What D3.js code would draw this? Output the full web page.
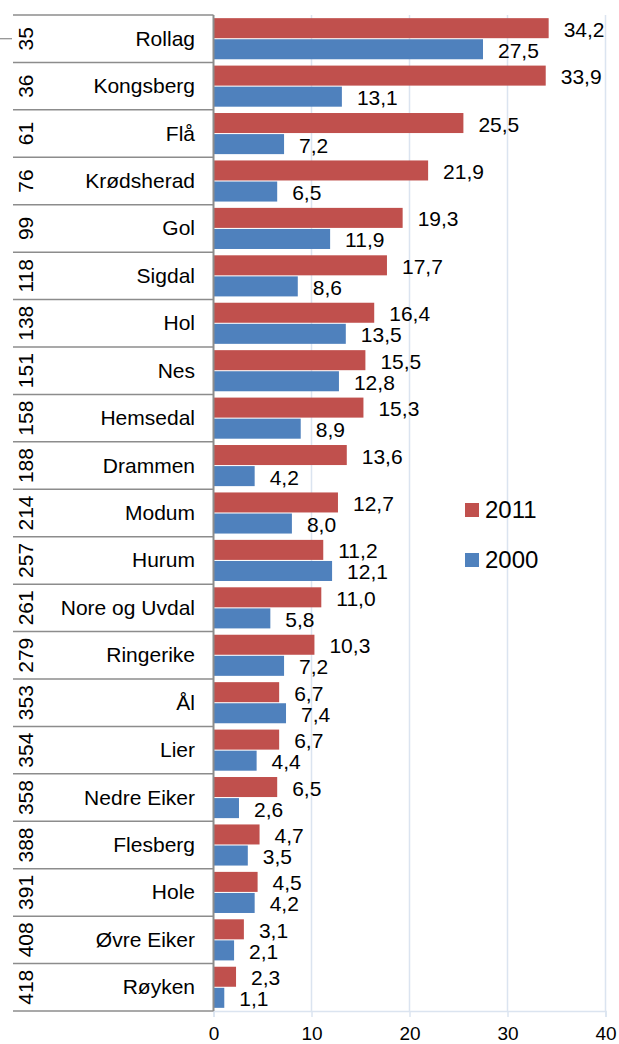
<!DOCTYPE html>
<html>
<head>
	<meta charset="utf-8">
	<title>Kommuner 2011 / 2000</title>
	<script src="https://d3js.org/d3.v7.min.js"></script>
	<style>
		body { margin: 0; background: #fff; }
		text { font-family: "Liberation Sans", Arial, sans-serif; fill: #000; }
	</style>
</head>
<body>
<script type="text/javascript">

	// data
	var names = ["Rollag", "Kongsberg", "Flå", "Krødsherad", "Gol", "Sigdal", "Hol", "Nes",
		"Hemsedal", "Drammen", "Modum", "Hurum", "Nore og Uvdal", "Ringerike", "Ål", "Lier",
		"Nedre Eiker", "Flesberg", "Hole", "Øvre Eiker", "Røyken"];
	var ranks = [35, 36, 61, 76, 99, 118, 138, 151, 158, 188, 214, 257, 261, 279, 353, 354,
		358, 388, 391, 408, 418];
	var v2011 = [34.2, 33.9, 25.5, 21.9, 19.3, 17.7, 16.4, 15.5, 15.3, 13.6, 12.7, 11.2, 11.0,
		10.3, 6.7, 6.7, 6.5, 4.7, 4.5, 3.1, 2.3];
	var v2000 = [27.5, 13.1, 7.2, 6.5, 11.9, 8.6, 13.5, 12.8, 8.9, 4.2, 8.0, 12.1, 5.8, 7.2,
		7.4, 4.4, 2.6, 3.5, 4.2, 2.1, 1.1];
	var seriesNames = ["2011", "2000"];
	var xTicks = [0, 10, 20, 30, 40];

	var colors = { "2011": "#c0504d", "2000": "#4f81bd" };

	var width = 619, height = 1044;
	var padL = 213.5, padR = 605.5, padT = 15, padB = 1011;
	var tableLeft = 13;

	var rows = names.map(function (n, i) {
		return { name: n, rank: ranks[i], vals: { "2011": v2011[i], "2000": v2000[i] } };
	});

	var x = d3.scaleLinear().domain([0, 40]).range([padL, padR]);
	var y = d3.scaleBand().domain(names).range([padT, padB]).padding(0);
	var ySub = d3.scaleBand().domain(seriesNames).range([0, y.bandwidth()])
		.paddingInner(0.05).paddingOuter(0.15);

	var fmt = function (v) { return d3.format(".1f")(v).replace(".", ","); };

	var svg = d3.select("body").append("svg")
		.attr("width", width)
		.attr("height", height);

	// gridlines + x axis
	var xAxis = d3.axisBottom(x).tickValues(xTicks).tickSize(6).tickPadding(10);
	var gx = svg.append("g")
		.attr("transform", "translate(0," + padB + ")")
		.call(xAxis);
	gx.attr("font-size", 19).attr("font-family", "'Liberation Sans', Arial, sans-serif");
	gx.select(".domain").attr("stroke", "#dbe4f0").attr("stroke-width", 1.5);
	gx.selectAll(".tick line").attr("stroke", "#dbe4f0").attr("stroke-width", 1.5);
	gx.selectAll(".tick text").attr("fill", "#000");

	svg.append("g").selectAll("line")
		.data(xTicks.slice(1))
		.enter().append("line")
		.attr("x1", function (d) { return x(d); })
		.attr("x2", function (d) { return x(d); })
		.attr("y1", padT)
		.attr("y2", padB)
		.attr("stroke", "#dbe4f0")
		.attr("stroke-width", 1.5);

	// table row separators
	var bounds = names.map(function (n) { return y(n); }).concat([padB]);
	svg.append("g").selectAll("line")
		.data(bounds)
		.enter().append("line")
		.attr("x1", tableLeft)
		.attr("x2", padL)
		.attr("y1", function (d) { return d; })
		.attr("y2", function (d) { return d; })
		.attr("stroke", "#8c8c8c")
		.attr("stroke-width", 1.5);

	// small stray tick at the far left
	svg.append("line")
		.attr("x1", 0).attr("x2", tableLeft - 1)
		.attr("y1", y(names[0]) + y.bandwidth() / 2)
		.attr("y2", y(names[0]) + y.bandwidth() / 2)
		.attr("stroke", "#8c8c8c")
		.attr("stroke-width", 1.2);

	// bars
	var groups = svg.append("g").selectAll("g")
		.data(rows)
		.enter().append("g")
		.attr("transform", function (d) { return "translate(0," + y(d.name) + ")"; });

	groups.selectAll("rect")
		.data(function (d) { return seriesNames.map(function (s) { return { s: s, v: d.vals[s] }; }); })
		.enter().append("rect")
		.attr("x", x(0))
		.attr("y", function (d) { return ySub(d.s); })
		.attr("width", function (d) { return x(d.v) - x(0); })
		.attr("height", ySub.bandwidth())
		.attr("fill", function (d) { return colors[d.s]; });

	groups.selectAll("text.val")
		.data(function (d) { return seriesNames.map(function (s) { return { s: s, v: d.vals[s] }; }); })
		.enter().append("text")
		.attr("class", "val")
		.attr("x", function (d) { return x(d.v) + 15; })
		.attr("y", function (d) { return ySub(d.s) + ySub.bandwidth() / 2 + 8.5; })
		.attr("font-size", 21)
		.text(function (d) { return fmt(d.v); });

	// rank numbers (rotated) and names
	groups.append("text")
		.attr("transform", function () {
			return "translate(33," + (y.bandwidth() / 2) + ") rotate(-90)";
		})
		.attr("text-anchor", "middle")
		.attr("font-size", 21)
		.text(function (d) { return d.rank; });

	groups.append("text")
		.attr("x", 195)
		.attr("y", y.bandwidth() / 2 + 7)
		.attr("text-anchor", "end")
		.attr("font-size", 21)
		.text(function (d) { return d.name; });

	// left axis line
	svg.append("line")
		.attr("x1", padL).attr("x2", padL)
		.attr("y1", padT).attr("y2", padB)
		.attr("stroke", "#8c8c8c")
		.attr("stroke-width", 2);

	// legend
	var legend = svg.append("g").selectAll("g")
		.data(seriesNames)
		.enter().append("g")
		.attr("transform", function (d, i) { return "translate(465," + (503 + i * 50) + ")"; });
	legend.append("rect")
		.attr("width", 14).attr("height", 14)
		.attr("fill", function (d) { return colors[d]; });
	legend.append("text")
		.attr("x", 20)
		.attr("y", 15)
		.attr("font-size", 24)
		.text(function (d) { return d; });

</script>
</body>
</html>
